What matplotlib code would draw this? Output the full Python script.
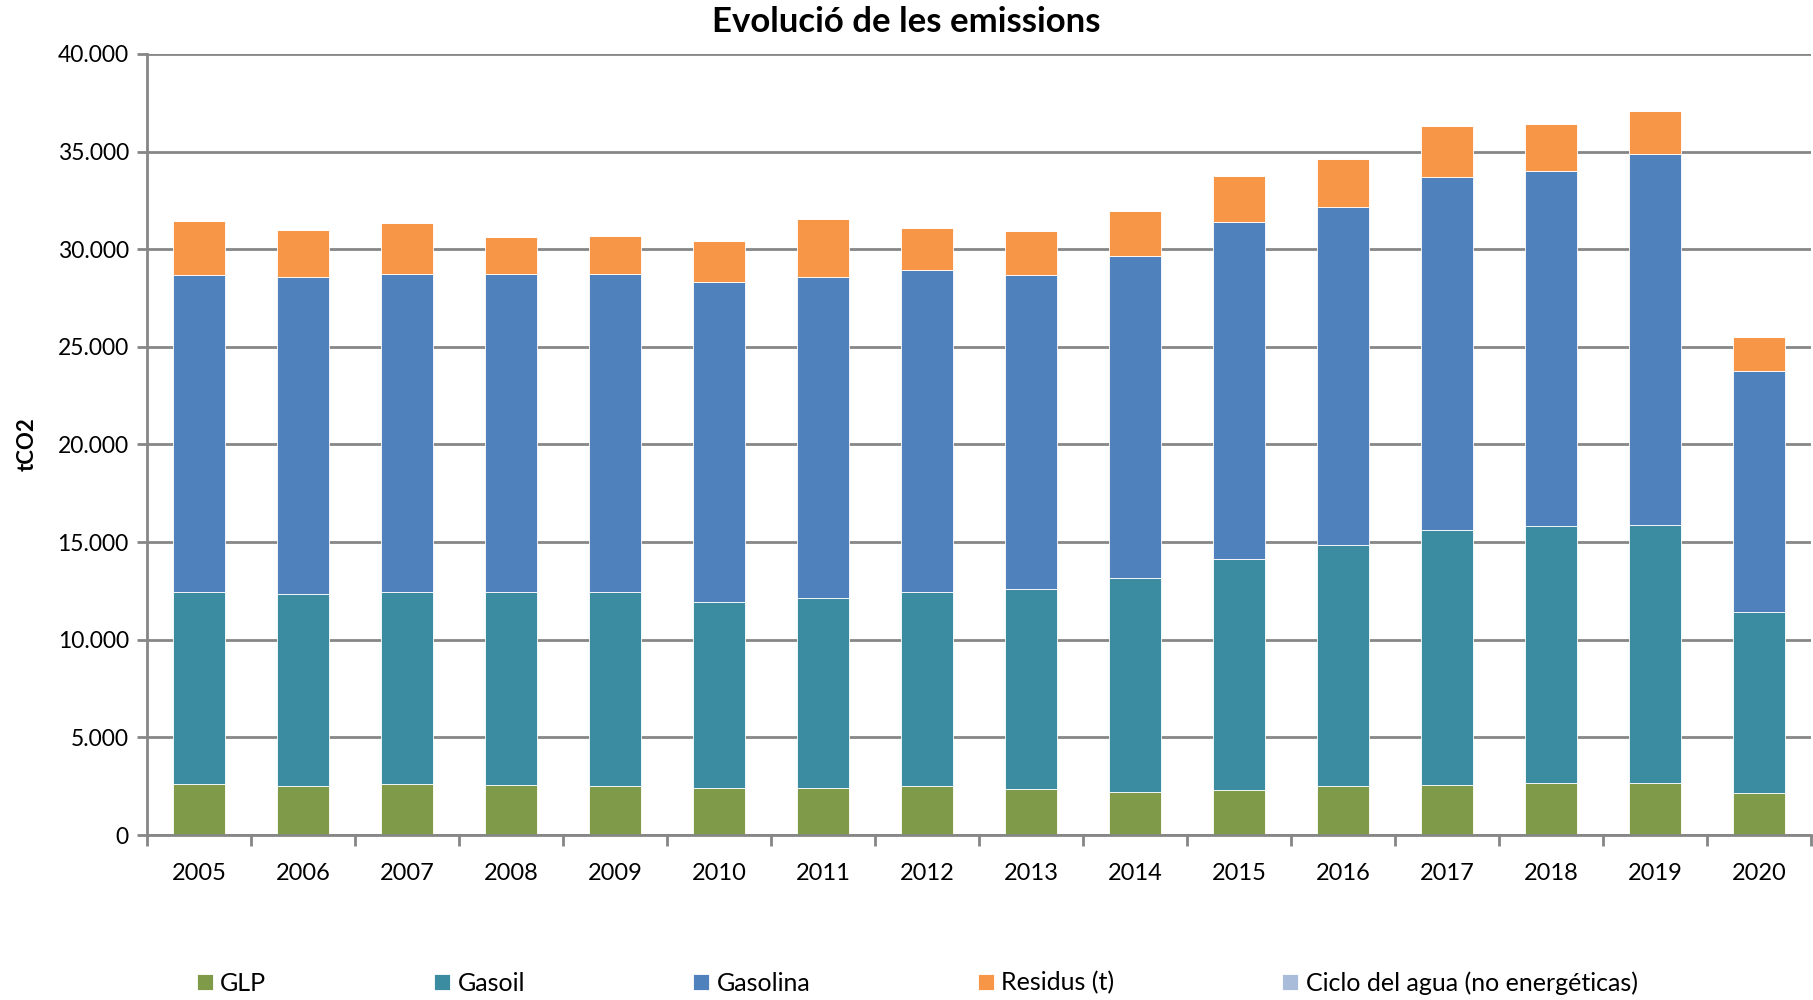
import numpy as np
import matplotlib
matplotlib.use('Agg')
import matplotlib.pyplot as plt
from matplotlib.ticker import FuncFormatter, MultipleLocator

plt.rcParams['font.family'] = ['Lato', 'DejaVu Sans']

years = ['2005', '2006', '2007', '2008', '2009', '2010', '2011', '2012',
         '2013', '2014', '2015', '2016', '2017', '2018', '2019', '2020']

# segment values
glp = [2600, 2490, 2600, 2550, 2490, 2430, 2430, 2490,
       2370, 2190, 2310, 2490, 2550, 2660, 2670, 2150]
gasoil = [9840, 9840, 9840, 9890, 9950, 9480, 9720, 9950,
          10250, 10970, 11850, 12380, 13090, 13180, 13200, 9250]
gasolina = [16240, 16230, 16300, 16300, 16300, 16420, 16410, 16480,
            16060, 16510, 17240, 17290, 18040, 18160, 19000, 12340]
residus = [2790, 2430, 2610, 1900, 1960, 2070, 2970, 2190,
           2250, 2310, 2330, 2440, 2620, 2430, 2230, 1770]
ciclo_agua = [0] * 16

series = [
    ('GLP', glp, '#7F9A48'),
    ('Gasoil', gasoil, '#3B8BA1'),
    ('Gasolina', gasolina, '#4F81BD'),
    ('Residus (t)', residus, '#F79646'),
    ('Ciclo del agua (no energéticas)', ciclo_agua, '#A9BCDA'),
]

fig = plt.figure(figsize=(18.13, 10), dpi=100)
ax = fig.add_axes([0.081, 0.165, 0.918, 0.781])

x = np.arange(len(years))
bottom = np.zeros(len(years))
for name, vals, col in series:
    vals = np.array(vals, dtype=float)
    ax.bar(x, vals, 0.5, bottom=bottom, color=col, label=name,
           edgecolor='white', linewidth=0.6, zorder=3)
    bottom += vals

ax.set_xlim(-0.5, len(years) - 0.5)
ax.set_ylim(0, 40000)
ax.yaxis.set_major_locator(MultipleLocator(5000))
ax.yaxis.set_major_formatter(FuncFormatter(lambda v, p: f'{int(v):,}'.replace(',', '.')))
ax.grid(axis='y', color='#868686', linewidth=2, zorder=0)

ax.set_xticks(x)
ax.set_xticklabels(years)
ax.set_xticks(np.arange(len(years) + 1) - 0.5, minor=True)
ax.tick_params(axis='x', which='major', length=0, pad=20, labelsize=17)
ax.tick_params(axis='x', which='minor', length=8, width=2, color='#868686')
ax.tick_params(axis='y', length=7, width=2, color='#868686', labelsize=16.5, pad=6)

for s in ['top', 'right']:
    ax.spines[s].set_visible(False)
for s in ['left', 'bottom']:
    ax.spines[s].set_color('#868686')
    ax.spines[s].set_linewidth(2)
ax.spines['bottom'].set_zorder(4)

ax.set_ylabel('tCO2', fontsize=16, fontweight='bold', labelpad=14)
fig.text(0.5, 0.978, 'Evolució de les emissions', ha='center', va='center',
         fontsize=25, fontweight='bold')

fig.legend(loc='center left', bbox_to_anchor=(0.096, 0.017), ncol=5, frameon=False,
           fontsize=18, handlelength=0.65, handleheight=0.65, handletextpad=0.3,
           columnspacing=6.7)

plt.savefig('out.png')
